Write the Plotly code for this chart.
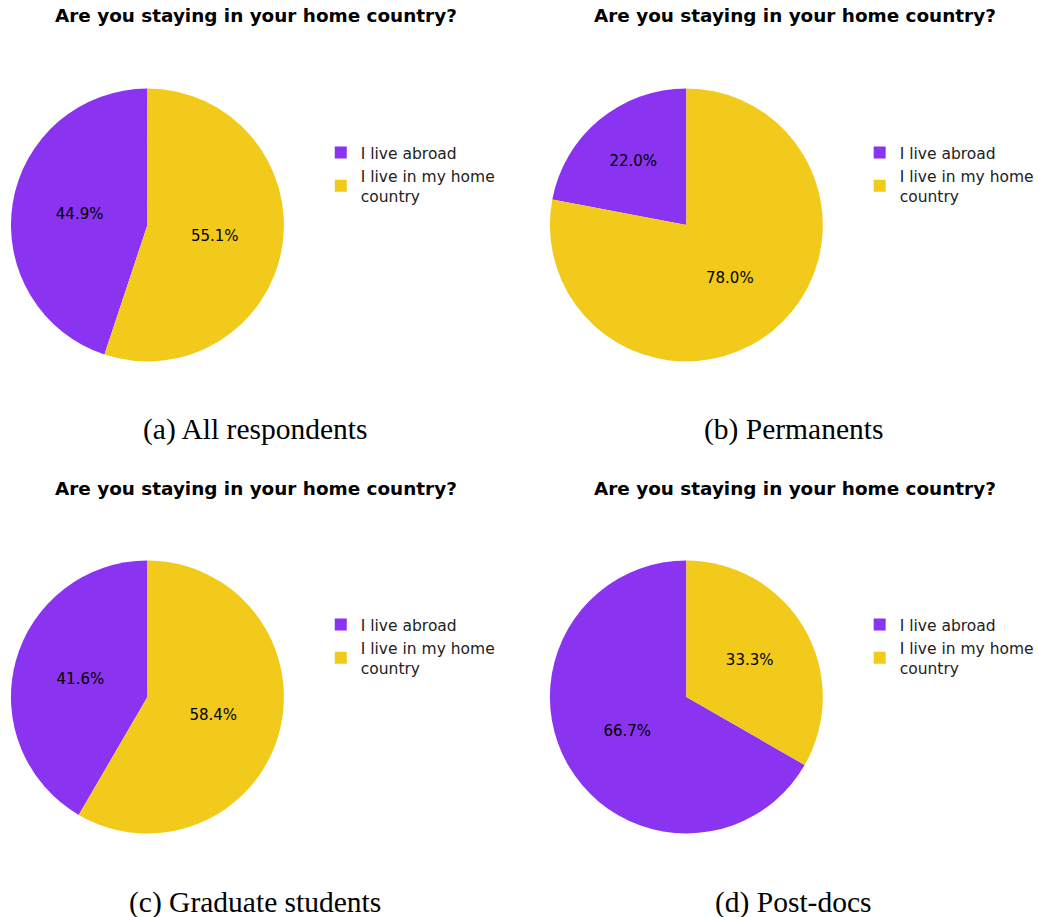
import plotly.graph_objects as go

# 数据
LABELS = ["I live abroad", "I live in my home<br>country"]
PANEL_VALUES = {
    "a": [44.9, 55.1],
    "b": [22.0, 78.0],
    "c": [41.6, 58.4],
    "d": [66.7, 33.3],
}
CAPTIONS = {
    "a": "(a) All respondents",
    "b": "(b) Permanents",
    "c": "(c) Graduate students",
    "d": "(d) Post-docs",
}
TITLE = "Are you staying in your home country?"

# 样式
W, H = 1039, 917
COLORS = ["#8A33F0", "#F1CA1C"]
FONT = "DejaVu Sans"
SERIF = "Liberation Serif"

# 每个面板的左上角偏移（像素）
OFFSETS = {"a": (0, 0), "b": (541, 0), "c": (0, 472), "d": (541, 472)}

# 去掉页面默认外边距，避免滚动条
_PAGE_FIX = (
    "document.documentElement.style.overflow='hidden';"
    "document.body.style.margin='0';"
    "document.body.style.overflow='hidden';"
)


def px_x(x):
    return x / W


def px_y(y):
    return 1 - y / H


fig = go.Figure()
annotations = []
legend_cfg = {}

for i, key in enumerate(["a", "b", "c", "d"]):
    ox, oy = OFFSETS[key]
    values = PANEL_VALUES[key]
    legend_name = "legend" if i == 0 else f"legend{i + 1}"
    # 饼图图例按标签全局去重，给每个面板的标签加不可见的尾随空格
    labels = [lab + " " * i for lab in LABELS]
    # 第一块从 12 点钟方向逆时针展开（同 matplotlib startangle=90）
    rotation = -360 * values[0] / sum(values)
    fig.add_trace(
        go.Pie(
            labels=labels,
            values=values,
            marker=dict(colors=COLORS),
            sort=False,
            direction="counterclockwise",
            rotation=rotation,
            texttemplate="%{percent:.1%}",
            textposition="inside",
            insidetextorientation="horizontal",
            textfont=dict(family=FONT, size=15, color="black"),
            domain=dict(
                x=[px_x(ox + 11), px_x(ox + 285)],
                y=[px_y(oy + 362), px_y(oy + 88)],
            ),
            legend=legend_name,
            hoverinfo="label+percent",
        )
    )
    legend_cfg[legend_name] = dict(
        x=px_x(ox + 322),
        y=px_y(oy + 136),
        xanchor="left",
        yanchor="top",
        font=dict(family=FONT, size=15.5, color="#222"),
        bgcolor="rgba(0,0,0,0)",
        itemwidth=30,
        tracegroupgap=0,
    )
    annotations.append(
        dict(
            text=f"<b>{TITLE}</b>",
            x=px_x(ox + 257),
            y=px_y(oy + 16),
            xref="paper",
            yref="paper",
            xanchor="center",
            yanchor="middle",
            showarrow=False,
            font=dict(family=FONT, size=18.4, color="black"),
        )
    )
    annotations.append(
        dict(
            text=CAPTIONS[key],
            x=px_x(ox + 256),
            y=px_y(oy + 430),
            xref="paper",
            yref="paper",
            xanchor="center",
            yanchor="middle",
            showarrow=False,
            font=dict(family=SERIF, size=29.5, color="black"),
        )
    )

fig.update_layout(
    width=W,
    height=H,
    margin=dict(l=0, r=0, t=0, b=0),
    paper_bgcolor="white",
    plot_bgcolor="white",
    annotations=annotations,
    **legend_cfg,
)

fig.write_html("out.html", post_script=_PAGE_FIX, config={"displayModeBar": False})
